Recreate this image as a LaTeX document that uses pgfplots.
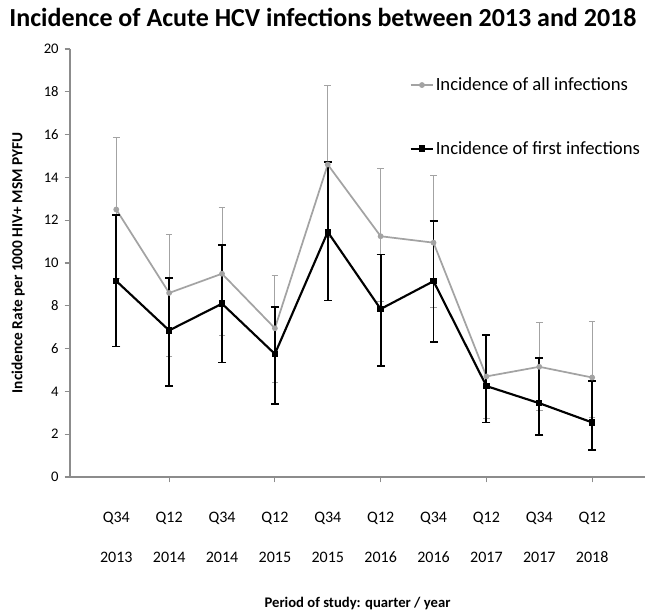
\documentclass[border=0pt]{standalone}
\usepackage{pgfplots}
\pgfplotsset{compat=1.18}
\usepackage{pgfplotstable}
\usepackage{fontspec}
\setmainfont{Carlito}
\definecolor{allinf}{HTML}{A3A3A3}
\definecolor{axgray}{HTML}{8C8C8C}

% x  y  plus  minus
\pgfplotstableread{
x y ep em
0 12.50 3.35 3.20
1 8.60 2.75 2.95
2 9.50 3.10 2.90
3 6.95 2.45 2.55
4 14.60 3.70 3.40
5 11.25 3.15 3.05
6 10.95 3.15 3.05
7 4.70 1.90 1.95
8 5.15 2.05 2.05
9 4.65 2.60 1.85
}\allinfections

\pgfplotstableread{
x y ep em
0 9.16 3.09 3.06
1 6.85 2.45 2.60
2 8.10 2.75 2.75
3 5.75 2.20 2.35
4 11.45 3.25 3.20
5 7.85 2.55 2.65
6 9.15 2.80 2.85
7 4.25 2.40 1.70
8 3.45 2.10 1.50
9 2.55 1.95 1.30
}\firstinfections

\begin{document}
\begin{tikzpicture}
\begin{axis}[
    name=ax,
    scale only axis,
    width=431.25pt, height=321pt,
    xmin=-0.875, xmax=10,
    ymin=0, ymax=20,
    axis x line*=bottom, axis y line*=left,
    axis line style={axgray, line width=0.8pt, -},
    ytick={0,2,...,20},
    tick align=outside,
    major tick length=4pt,
    tick style={axgray, line width=0.8pt},
    yticklabel style={font=\fontsize{11}{13}\selectfont, xshift=-1pt},
    /pgf/number format/assume math mode=true,
    xtick={0,...,9},
    xtick style={draw=none},
    xticklabels={{Q34\\[16pt]2013},{Q12\\[16pt]2014},{Q34\\[16pt]2014},{Q12\\[16pt]2015},{Q34\\[16pt]2015},
                 {Q12\\[16pt]2016},{Q34\\[16pt]2016},{Q12\\[16pt]2017},{Q34\\[16pt]2017},{Q12\\[16pt]2018}},
    xticklabel style={align=center, font=\fontsize{12}{14}\selectfont, yshift=-19pt},
    extra x ticks={1,3,5,7,9},
    extra x tick labels={},
    extra x tick style={xtick style={axgray, draw=axgray, line width=0.8pt}, major tick length=4pt},
    xlabel={\textbf{Period of study: quarter / year}},
    xlabel style={font=\fontsize{11}{13}\selectfont, at={(axis description cs:0.5,0)}, anchor=center, yshift=-94.5pt},
    ylabel={\textbf{Incidence Rate per 1000 HIV+ MSM PYFU}},
    ylabel style={font=\fontsize{11.5}{13}\selectfont, at={(axis description cs:-0.09,0.5)}, anchor=center},
    title={\textbf{Incidence of Acute HCV infections between 2013 and 2018}},
    title style={font=\fontsize{19.5}{22}\selectfont, at={(axis description cs:0.44,1)}, anchor=center, yshift=18pt},
    legend style={draw=none, fill=none, at={(0.59,0.937)}, anchor=north west,
        font=\fontsize{14}{16}\selectfont, row sep=34.5pt, inner sep=0pt,
        nodes={inner sep=1pt}},
    legend cell align=left,
    clip=false,
]
\addplot[allinf, line width=1.3pt, mark=*, mark size=1.5pt,
    error bars/.cd, y dir=both, y explicit,
    error bar style={allinf, line width=0.7pt},
    error mark options={rotate=90, mark size=2.5pt, allinf, line width=0.7pt}]
    table[x=x, y=y, y error plus=ep, y error minus=em] {\allinfections};
\addlegendentry{Incidence of all infections}
\addplot[black, line width=1.6pt, mark=square*, mark size=1.6pt,
    error bars/.cd, y dir=both, y explicit,
    error bar style={black, line width=1.4pt},
    error mark options={rotate=90, mark size=3pt, black, line width=1.4pt}]
    table[x=x, y=y, y error plus=ep, y error minus=em] {\firstinfections};
\addlegendentry{Incidence of first infections}
\end{axis}
\pgfresetboundingbox
\path ([xshift=-52.5pt,yshift=-102.75pt]ax.south west) rectangle ([xshift=2.25pt,yshift=36.75pt]ax.north east);
\end{tikzpicture}
\end{document}
